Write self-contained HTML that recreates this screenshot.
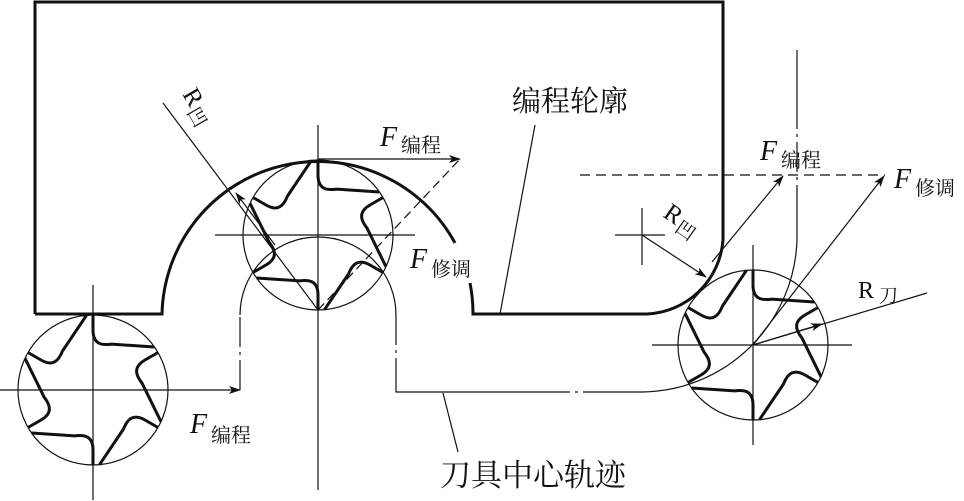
<!DOCTYPE html>
<html><head><meta charset="utf-8"><style>
html,body{margin:0;padding:0;background:#fff;}
svg{display:block;}
text{font-family:"Liberation Serif","Noto Serif CJK SC",serif;fill:#111;}
.cn{font-family:"Liberation Serif","Noto Serif CJK SC",serif;}
</style></head><body>
<svg id="s" width="964" height="501" viewBox="0 0 964 501" xmlns="http://www.w3.org/2000/svg">
<defs><marker id="a" markerWidth="12" markerHeight="8" refX="11" refY="4" orient="auto" markerUnits="userSpaceOnUse"><path d="M0,0 L12,4 L0,8 L3,4 Z" fill="#111"/></marker></defs>
<g fill="none" stroke="#111">
<path stroke-width="3" d="M35,314 L35,2 L723,2 L723,240 A80,80 0 0 1 647,314 L473,314 A155,155 0 0 0 470,283"/>
<path stroke-width="3" d="M455,243 A156,156 0 0 0 162,314 L35,314"/>
<path stroke-width="1.2" d="M240,315 A78,78 0 0 1 396,315 M396,370 L396,392 L540,392 M590,392 L643,392 A157,157 0 0 0 797,240 L797,215"/>
<path stroke-width="1.2" stroke-dasharray="30,5,3,5" d="M240,390 L240,315 M396,315 L396,370 M540,392 L590,392 M797,215 L797,125"/>
<line x1="797" y1="50" x2="797" y2="125" stroke-width="1.2"/>
<circle cx="93" cy="390" r="75" stroke-width="1.2"/>
<circle cx="318" cy="235" r="75" stroke-width="1.2"/>
<circle cx="753" cy="345" r="75" stroke-width="1.2"/>
<line x1="0" y1="390" x2="240" y2="390" stroke-width="1.2" marker-end="url(#a)"/>
<line x1="93" y1="285" x2="93" y2="500" stroke-width="1.2"/>
<line x1="318" y1="125" x2="318" y2="490" stroke-width="1.2"/>
<line x1="215" y1="235" x2="415" y2="235" stroke-width="1.2"/>
<line x1="652" y1="345" x2="852" y2="345" stroke-width="1.2"/>
<line x1="753" y1="245" x2="753" y2="445" stroke-width="1.2"/>
<line x1="615" y1="235" x2="665" y2="235" stroke-width="1.2"/>
<line x1="642" y1="208" x2="642" y2="265" stroke-width="1.2"/>
<line x1="163" y1="103" x2="318" y2="310" stroke-width="1.2"/>
<line x1="275" y1="245" x2="236" y2="193" stroke-width="1.2" marker-end="url(#a)"/>
<line x1="318" y1="159" x2="460" y2="159" stroke-width="1.2" marker-end="url(#a)"/>
<line x1="318" y1="310" x2="460" y2="159" stroke-width="1.2" stroke-dasharray="9,5"/>
<line x1="580" y1="175" x2="885" y2="175" stroke-width="1.2" stroke-dasharray="10,6"/>
<line x1="712" y1="262" x2="783" y2="176" stroke-width="1.2" marker-end="url(#a)"/>
<line x1="753" y1="345" x2="884" y2="176" stroke-width="1.2" marker-end="url(#a)"/>
<line x1="753" y1="345" x2="927" y2="293" stroke-width="1.2"/>
<line x1="753" y1="345" x2="822" y2="324" stroke-width="1.2" marker-end="url(#a)"/>
<line x1="642" y1="235" x2="706" y2="277" stroke-width="1.2" marker-end="url(#a)"/>
<line x1="535" y1="125" x2="500" y2="314" stroke-width="1.2"/>
<line x1="443" y1="393" x2="458" y2="452" stroke-width="1.2"/>
<g id="teeth" stroke-width="3"></g>
</g>
<text x="380" y="146" font-size="28" font-style="italic">F</text><text x="401" y="152" class="cn" font-size="20">编程</text>
<text x="410" y="268" font-size="28" font-style="italic">F</text><text x="431" y="276" class="cn" font-size="20">修调</text>
<text x="190" y="433" font-size="28" font-style="italic">F</text><text x="211" y="442" class="cn" font-size="20">编程</text>
<text x="760" y="160" font-size="28" font-style="italic">F</text><text x="781" y="167" class="cn" font-size="20">编程</text>
<text x="894" y="188" font-size="28" font-style="italic">F</text><text x="915" y="195" class="cn" font-size="20">修调</text>
<text x="858" y="298" font-size="24">R</text><text x="879" y="302" class="cn" font-size="19">刀</text>
<text x="512" y="111" class="cn" font-size="29">编程轮廓</text>
<text x="440" y="486" class="cn" font-size="31">刀具中心轨迹</text>
<g transform="translate(182,94) rotate(60)"><text x="0" y="0" font-size="25">R</text><text x="18" y="5" class="cn" font-size="19">凹</text></g>
<g transform="translate(662,216) rotate(35)"><text x="0" y="0" font-size="25">R</text><text x="18" y="5" class="cn" font-size="19">凹</text></g>
<script>
(function(){
var g=document.getElementById('teeth'),d='';
function p(cx,cy,r,a){a=a*Math.PI/180;return (cx+r*Math.cos(a)).toFixed(1)+','+(cy+r*Math.sin(a)).toFixed(1);}
[[93,390],[318,235],[753,345]].forEach(function(c){
var R=75;
for(var k=0;k<6;k++){var A=-90+60*k;
d+='M'+p(c[0],c[1],R,A)+' L'+p(c[0],c[1],R*0.8,A)+' C'+p(c[0],c[1],R*0.62,A)+' '+p(c[0],c[1],R*0.6,A+10)+' '+p(c[0],c[1],R*0.66,A+22)+' L'+p(c[0],c[1],R,A+55)+' ';}
});
var e=document.createElementNS('http://www.w3.org/2000/svg','path');e.setAttribute('d',d);g.appendChild(e);
})();
</script>
</svg>
</body></html>
